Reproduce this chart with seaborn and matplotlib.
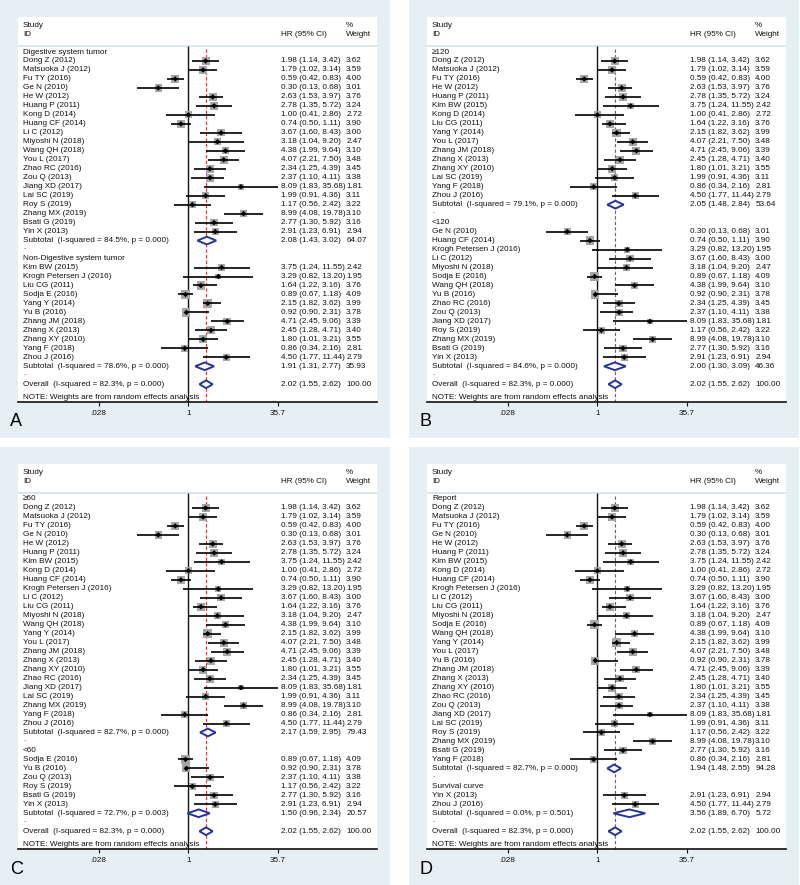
import matplotlib
matplotlib.use("Agg")
import numpy as np
import pandas as pd
import matplotlib.pyplot as plt
import matplotlib.transforms as mtrans
from matplotlib.patches import Rectangle
from matplotlib.ticker import NullLocator
import seaborn as sns

# ---- study level estimates: HR, 95% CI, % weight ----
study = ["Dong Z (2012)", "Matsuoka J (2012)", "Fu TY (2016)", "Ge N (2010)", "He W (2012)",
         "Huang P (2011)", "Kong D (2014)", "Huang CF (2014)", "Li C (2012)", "Miyoshi N (2018)",
         "Wang QH (2018)", "You L (2017)", "Zhao RC (2016)", "Zou Q (2013)", "Jiang XD (2017)",
         "Lai SC (2019)", "Roy S (2019)", "Zhang MX (2019)", "Bsati G (2019)", "Yin X (2013)",
         "Kim BW (2015)", "Krogh Petersen J (2016)", "Liu CG (2011)", "Sodja E (2016)",
         "Yang Y (2014)", "Yu B (2016)", "Zhang JM (2018)", "Zhang X (2013)", "Zhang XY (2010)",
         "Yang F (2018)", "Zhou J (2016)"]
hr = [1.98, 1.79, 0.59, 0.30, 2.63, 2.78, 1.00, 0.74, 3.67, 3.18, 4.38, 4.07, 2.34, 2.37, 8.09,
      1.99, 1.17, 8.99, 2.77, 2.91, 3.75, 3.29, 1.64, 0.89, 2.15, 0.92, 4.71, 2.45, 1.80, 0.86, 4.50]
lo = [1.14, 1.02, 0.42, 0.13, 1.53, 1.35, 0.41, 0.50, 1.60, 1.04, 1.99, 2.21, 1.25, 1.10, 1.83,
      0.91, 0.56, 4.08, 1.30, 1.23, 1.24, 0.82, 1.22, 0.67, 1.82, 0.90, 2.45, 1.28, 1.01, 0.34, 1.77]
hi = [3.42, 3.14, 0.83, 0.68, 3.97, 5.72, 2.86, 1.11, 8.43, 9.20, 9.64, 7.50, 4.39, 4.11, 35.68,
      4.36, 2.42, 19.78, 5.92, 6.91, 11.55, 13.20, 3.16, 1.18, 3.62, 2.31, 9.06, 4.71, 3.21, 2.16, 11.44]
weight = [3.62, 3.59, 4.00, 3.01, 3.76, 3.24, 2.72, 3.90, 3.00, 2.47, 3.10, 3.48, 3.45, 3.38, 1.81,
          3.11, 3.22, 3.10, 3.16, 2.94, 2.42, 1.95, 3.76, 4.09, 3.99, 3.78, 3.39, 3.40, 3.55, 2.81, 2.79]

# overall random effects estimate
ov_hr, ov_lo, ov_hi, ov_i2, ov_p = 2.02, 1.55, 2.62, 82.3, 0.000

# ---- panel A: tumour type ----
a_groups = ["Digestive system tumor", "Non-Digestive system tumor"]
a_members = [study[:20], study[20:]]
a_sub_hr = [2.08, 1.91]
a_sub_lo = [1.43, 1.31]
a_sub_hi = [3.02, 2.77]
a_sub_w = [64.07, 35.93]
a_sub_i2 = [84.5, 78.6]
a_sub_p = [0.000, 0.000]

# ---- panel B: cut-off ----
b_groups = ["\u2265120", "<120"]
b_members = [["Dong Z (2012)", "Matsuoka J (2012)", "Fu TY (2016)", "He W (2012)", "Huang P (2011)",
              "Kim BW (2015)", "Kong D (2014)", "Liu CG (2011)", "Yang Y (2014)", "You L (2017)",
              "Zhang JM (2018)", "Zhang X (2013)", "Zhang XY (2010)", "Lai SC (2019)", "Yang F (2018)",
              "Zhou J (2016)"],
             ["Ge N (2010)", "Huang CF (2014)", "Krogh Petersen J (2016)", "Li C (2012)",
              "Miyoshi N (2018)", "Sodja E (2016)", "Wang QH (2018)", "Yu B (2016)", "Zhao RC (2016)",
              "Zou Q (2013)", "Jiang XD (2017)", "Roy S (2019)", "Zhang MX (2019)", "Bsati G (2019)",
              "Yin X (2013)"]]
b_sub_hr = [2.05, 2.00]
b_sub_lo = [1.48, 1.30]
b_sub_hi = [2.84, 3.09]
b_sub_w = [53.64, 46.36]
b_sub_i2 = [79.1, 84.6]
b_sub_p = [0.000, 0.000]

# ---- panel C: sample size ----
c_groups = ["\u226560", "<60"]
c_members = [["Dong Z (2012)", "Matsuoka J (2012)", "Fu TY (2016)", "Ge N (2010)", "He W (2012)",
              "Huang P (2011)", "Kim BW (2015)", "Kong D (2014)", "Huang CF (2014)",
              "Krogh Petersen J (2016)", "Li C (2012)", "Liu CG (2011)", "Miyoshi N (2018)",
              "Wang QH (2018)", "Yang Y (2014)", "You L (2017)", "Zhang JM (2018)", "Zhang X (2013)",
              "Zhang XY (2010)", "Zhao RC (2016)", "Jiang XD (2017)", "Lai SC (2019)",
              "Zhang MX (2019)", "Yang F (2018)", "Zhou J (2016)"],
             ["Sodja E (2016)", "Yu B (2016)", "Zou Q (2013)", "Roy S (2019)", "Bsati G (2019)",
              "Yin X (2013)"]]
c_sub_hr = [2.17, 1.50]
c_sub_lo = [1.59, 0.96]
c_sub_hi = [2.95, 2.34]
c_sub_w = [79.43, 20.57]
c_sub_i2 = [82.7, 72.7]
c_sub_p = [0.000, 0.003]

# ---- panel D: source of HR ----
d_groups = ["Report", "Survival curve"]
d_members = [["Dong Z (2012)", "Matsuoka J (2012)", "Fu TY (2016)", "Ge N (2010)", "He W (2012)",
              "Huang P (2011)", "Kim BW (2015)", "Kong D (2014)", "Huang CF (2014)",
              "Krogh Petersen J (2016)", "Li C (2012)", "Liu CG (2011)", "Miyoshi N (2018)",
              "Sodja E (2016)", "Wang QH (2018)", "Yang Y (2014)", "You L (2017)", "Yu B (2016)",
              "Zhang JM (2018)", "Zhang X (2013)", "Zhang XY (2010)", "Zhao RC (2016)",
              "Zou Q (2013)", "Jiang XD (2017)", "Lai SC (2019)", "Roy S (2019)", "Zhang MX (2019)",
              "Bsati G (2019)", "Yang F (2018)"],
             ["Yin X (2013)", "Zhou J (2016)"]]
d_sub_hr = [1.94, 3.56]
d_sub_lo = [1.48, 1.89]
d_sub_hi = [2.55, 6.70]
d_sub_w = [94.28, 5.72]
d_sub_i2 = [82.7, 0.0]
d_sub_p = [0.000, 0.501]

tick_vals = [0.028, 1, 35.7]
tick_labels = [".028", "1", "35.7"]

sns.set_style("white")
plt.rcParams['font.family'] = ['Liberation Sans', 'DejaVu Sans']

W, H = 800, 885
BLUE = "#e6eff4"
NAVY = "#24349a"
TXT = "#111111"
FS = 5.9
ROW_PX = 8.98


def px_rect(x, y, w, h):
    return [x / W, 1 - (y + h) / H, w / W, h / H]


studies = pd.DataFrame({"study": study, "hr": hr, "lo": lo, "hi": hi, "w": weight}).set_index("study")


def draw_panel(fig, bx, by, letter, groups, members, s_hr, s_lo, s_hi, s_w, s_i2, s_p):
    fig.patches.append(Rectangle((bx / W, 1 - (by + 438) / H), 390 / W, 438 / H,
                                 transform=fig.transFigure, facecolor=BLUE, edgecolor="none", zorder=-5))
    ax = fig.add_axes(px_rect(bx + 18, by + 17, 359, 385))
    ax.set_facecolor("white")
    ax.set_xscale("log")
    top = -35 / ROW_PX
    bottom = 350 / ROW_PX
    tr = mtrans.blended_transform_factory(ax.transAxes, ax.transData)

    rows = []
    subs = []
    r = 0
    for g, grp in enumerate(groups):
        rows.append(dict(row=r, label=grp, kind="head"))
        r += 1
        for s in members[g]:
            rows.append(dict(row=r, label=s, kind="study", **studies.loc[s].to_dict()))
            r += 1
        subs.append(dict(row=r, hr=s_hr[g], lo=s_lo[g], hi=s_hi[g], w=s_w[g],
                         label="Subtotal  (I-squared = %.1f%%, p = %.3f)" % (s_i2[g], s_p[g])))
        r += 1
        rows.append(dict(row=r, label=".", kind="dot"))
        r += 1
    subs.append(dict(row=r, hr=ov_hr, lo=ov_lo, hi=ov_hi, w=100.0,
                     label="Overall  (I-squared = %.1f%%, p = %.3f)" % (ov_i2, ov_p)))
    df = pd.DataFrame(rows)
    st = df[df.kind == "study"]
    sb = pd.DataFrame(subs)

    # reference lines
    hline_row = -0.67
    ax.vlines(1, hline_row, bottom, color="#111111", lw=1.0, zorder=2)
    ax.vlines(ov_hr, hline_row + 0.3, bottom, color="#d03a3a", lw=0.8, linestyles=(0, (3, 2)), zorder=2)
    ax.axhline(hline_row, color="#d9e3ea", lw=1.3, zorder=1)

    # weighted boxes, CI whiskers, point estimates
    sns.scatterplot(data=st, x="hr", y="row", size="w", sizes=(0, 46), size_norm=(0, 5),
                    marker="s", color="#a6a6a6", edgecolor="none", legend=False, ax=ax, zorder=3)
    ax.hlines(st["row"], st["lo"], st["hi"], color="black", lw=1.2, zorder=4)
    sns.scatterplot(data=st, x="hr", y="row", marker="D", s=8, color="black",
                    edgecolor="none", legend=False, ax=ax, zorder=5)

    # pooled diamonds
    dh = 0.43
    for _, d in sb.iterrows():
        ax.fill([d.lo, d.hr, d.hi, d.hr], [d.row, d.row - dh, d.row, d.row + dh],
                facecolor="white", edgecolor=NAVY, lw=1.4, zorder=4)

    # text columns
    ax.text(0.014, -3.0, "Study", transform=tr, fontsize=FS, va="center", color=TXT)
    ax.text(0.014, -2.0, "ID", transform=tr, fontsize=FS, va="center", color=TXT)
    ax.text(0.733, -2.0, "HR (95% CI)", transform=tr, fontsize=FS, va="center", color=TXT)
    ax.text(0.914, -3.0, "%", transform=tr, fontsize=FS, va="center", color=TXT)
    ax.text(0.914, -2.0, "Weight", transform=tr, fontsize=FS, va="center", color=TXT)
    for _, d in df.iterrows():
        ax.text(0.014, d.row - (0.25 if d.kind == "dot" else 0), d.label, transform=tr,
                fontsize=FS, va="center", color=TXT)
    for tab in (st, sb):
        for _, d in tab.iterrows():
            if tab is sb:
                ax.text(0.014, d.row, d.label, transform=tr, fontsize=FS, va="center", color=TXT)
            ax.text(0.733, d.row, "%.2f (%.2f, %.2f)" % (d.hr, d.lo, d.hi), transform=tr,
                    fontsize=FS, va="center", color=TXT)
            ax.text(0.914, d.row, "%.2f" % d.w, transform=tr, fontsize=FS, va="center", color=TXT)
    ax.text(0.014, r + 1.45, "NOTE: Weights are from random effects analysis", transform=tr,
            fontsize=FS, va="center", color=TXT)

    ax.set_xlim(np.exp(-6.79), np.exp(7.51))
    ax.set_ylim(bottom, top)
    ax.set_xticks(tick_vals)
    ax.set_xticklabels(tick_labels)
    ax.xaxis.set_minor_locator(NullLocator())
    ax.set_yticks([])
    ax.set_xlabel("")
    ax.set_ylabel("")
    ax.tick_params(axis="x", length=3, width=0.8, pad=3, labelsize=FS, colors=TXT,
                   bottom=True, direction="out")
    for side in ("top", "left", "right"):
        ax.spines[side].set_visible(False)
    ax.spines["bottom"].set_color("#111111")
    ax.spines["bottom"].set_linewidth(1.2)

    fig.text((bx + 10) / W, 1 - (by + 422) / H, letter, fontsize=13, va="center", ha="left",
             color="black")
    return ax


fig = plt.figure(figsize=(W / 100, H / 100), dpi=100, facecolor="white")
draw_panel(fig, 0, 0, "A", a_groups, a_members, a_sub_hr, a_sub_lo, a_sub_hi, a_sub_w, a_sub_i2, a_sub_p)
draw_panel(fig, 409, 0, "B", b_groups, b_members, b_sub_hr, b_sub_lo, b_sub_hi, b_sub_w, b_sub_i2, b_sub_p)
draw_panel(fig, 0, 447, "C", c_groups, c_members, c_sub_hr, c_sub_lo, c_sub_hi, c_sub_w, c_sub_i2, c_sub_p)
draw_panel(fig, 409, 447, "D", d_groups, d_members, d_sub_hr, d_sub_lo, d_sub_hi, d_sub_w, d_sub_i2, d_sub_p)

fig.savefig("out.png", dpi=100, facecolor="white")
